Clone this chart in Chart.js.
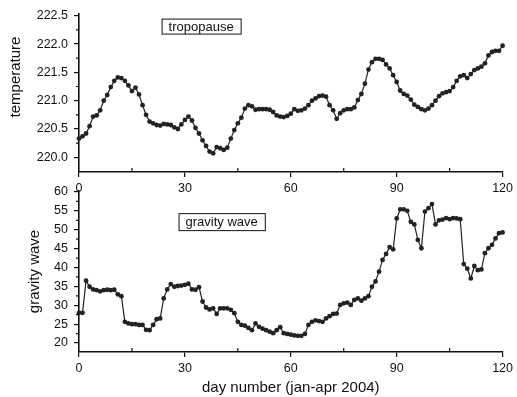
<!DOCTYPE html>
<html><head><meta charset="utf-8">
<script src="https://cdn.jsdelivr.net/npm/chart.js@4"></script>
<style>
html,body{margin:0;padding:0;background:#fff;}
#wrap{position:relative;width:517px;height:397px;overflow:hidden;}
canvas{position:absolute;left:0;top:0;}
</style></head><body>
<div id="wrap"><canvas id="topc" width="517" height="397"></canvas><canvas id="botc" width="517" height="397"></canvas></div>
<script>
// ---- data ----
const days = [0,1,2,3,4,5,6,7,8,9,10,11,12,13,14,15,16,17,18,19,20,21,22,23,24,25,26,27,28,29,30,31,32,33,34,35,36,37,38,39,40,41,42,43,44,45,46,47,48,49,50,51,52,53,54,55,56,57,58,59,60,61,62,63,64,65,66,67,68,69,70,71,72,73,74,75,76,77,78,79,80,81,82,83,84,85,86,87,88,89,90,91,92,93,94,95,96,97,98,99,100,101,102,103,104,105,106,107,108,109,110,111,112,113,114,115,116,117,118,119,120];
const temperature = [220.33,220.37,220.42,220.55,220.72,220.74,220.83,221.00,221.10,221.24,221.35,221.41,221.40,221.35,221.27,221.17,221.23,221.11,220.92,220.75,220.63,220.60,220.57,220.56,220.59,220.58,220.57,220.53,220.50,220.58,220.66,220.72,220.65,220.52,220.42,220.30,220.20,220.10,220.07,220.18,220.16,220.13,220.17,220.33,220.48,220.60,220.70,220.86,220.92,220.90,220.84,220.85,220.85,220.85,220.84,220.80,220.74,220.72,220.71,220.73,220.77,220.85,220.82,220.83,220.86,220.92,221.00,221.04,221.08,221.09,221.07,220.92,220.83,220.68,220.78,220.83,220.85,220.85,220.88,221.01,221.12,221.30,221.55,221.68,221.74,221.74,221.72,221.64,221.57,221.45,221.33,221.18,221.12,221.09,221.02,220.93,220.89,220.85,220.83,220.86,220.92,221.00,221.08,221.13,221.15,221.17,221.24,221.35,221.43,221.45,221.40,221.47,221.54,221.57,221.60,221.66,221.80,221.86,221.88,221.88,221.97];
const gravityWave = [28.0,28.0,36.5,34.9,34.2,34.0,33.7,34.0,34.1,34.0,34.1,32.9,32.4,25.6,25.2,25.0,25.0,24.8,24.8,23.5,23.4,24.8,26.3,26.5,31.8,34.2,35.6,34.9,35.1,35.2,35.4,35.7,34.2,34.1,34.8,31.0,29.4,28.9,29.2,27.7,29.2,29.2,29.2,28.8,27.9,25.6,24.8,24.6,24.0,23.4,25.2,24.3,23.8,23.4,23.0,22.6,23.4,24.2,22.6,22.4,22.2,22.0,21.9,21.9,22.4,24.8,25.6,26.0,25.8,25.6,26.5,27.1,27.7,27.8,30.1,30.5,30.7,30.1,31.4,31.8,31.2,31.8,32.4,34.9,36.3,38.9,42.0,43.6,45.4,44.8,53.0,55.4,55.4,55.0,52.1,51.4,47.3,45.1,54.8,55.7,56.8,51.4,52.5,52.7,53.1,52.8,53.1,53.0,52.8,40.9,39.7,37.1,40.4,39.3,39.5,43.8,45.1,46.0,47.7,49.1,49.3];
const xTicks = [0,30,60,90,120];
const xMinorTicks = [15,45,75,105];
const tempTicks = [220.0,220.5,221.0,221.5,222.0,222.5];
const tempMinorTicks = [220.25,220.75,221.25,221.75,222.25];
const gwTicks = [20,25,30,35,40,45,50,55,60];
const gwMinorTicks = [22.5,27.5,32.5,37.5,42.5,47.5,52.5,57.5];

const FONT = '"Liberation Sans", Arial, Helvetica, sans-serif';
const INK = '#111';

const decor = {
  id: 'decor',
  afterDraw(chart, args, o) {
    const ctx = chart.ctx, xs = chart.scales.x, ys = chart.scales.y, ca = chart.chartArea;
    ctx.save();
    ctx.strokeStyle = INK; ctx.lineWidth = 1.2;
    ctx.beginPath();
    o.xMinor.forEach(v => { const px = xs.getPixelForValue(v); ctx.moveTo(px, ca.bottom); ctx.lineTo(px, ca.bottom - 4); });
    o.yMinor.forEach(v => { const py = ys.getPixelForValue(v); ctx.moveTo(ca.left, py); ctx.lineTo(ca.left - 3, py); });
    ctx.stroke();
    // label box
    ctx.font = '13px ' + FONT;
    const tw = ctx.measureText(o.label).width;
    const bx = xs.getPixelForValue(o.boxDay), by = ys.getPixelForValue(o.boxValue);
    const bw = tw + 14, bh = o.boxH;
    ctx.fillStyle = '#fff';
    ctx.fillRect(bx, by, bw, bh);
    ctx.lineWidth = 1;
    ctx.strokeRect(bx + 0.5, by + 0.5, bw, bh);
    ctx.fillStyle = INK; ctx.textBaseline = 'middle'; ctx.textAlign = 'left';
    ctx.fillText(o.label, bx + 7, by + bh / 2 + 1);
    if (o.yTitle) {
      ctx.save();
      ctx.translate(o.yTitle.x, o.yTitle.y);
      ctx.rotate(-Math.PI / 2);
      ctx.font = '15px ' + FONT; ctx.textAlign = 'center'; ctx.textBaseline = 'middle';
      ctx.fillText(o.yTitle.text, 0, 0);
      ctx.restore();
    }
    ctx.restore();
  }
};

function makeChart(id, values, yMin, yMax, yTicks, opts) {
  return new Chart(document.getElementById(id), {
    type: 'line',
    data: { datasets: [{
      data: days.map((d, i) => ({ x: d, y: values[i] })),
      borderColor: '#222', borderWidth: 1.2,
      pointRadius: 2.4, pointBackgroundColor: '#222', pointBorderColor: '#222', pointBorderWidth: 0,
      tension: 0, clip: false
    }]},
    options: {
      responsive: false, animation: false, devicePixelRatio: 1,
      layout: { padding: opts.padding },
      plugins: { legend: { display: false }, tooltip: { enabled: false }, decor: opts.decor },
      scales: {
        x: {
          type: 'linear', min: 0, max: 120,
          afterFit: s => { s.height = opts.xHeight; },
          afterBuildTicks: s => { s.ticks = xTicks.map(v => ({ value: v })); },
          ticks: { color: INK, font: { size: 12.5, family: FONT }, padding: 4, maxRotation: 0, callback: v => String(v) },
          grid: { drawOnChartArea: false, drawTicks: true, tickLength: 5, color: INK, lineWidth: 1.2 },
          border: { display: true, color: INK, width: 1.6 },
          title: opts.xTitle
        },
        y: {
          min: yMin, max: yMax,
          afterFit: s => { s.width = 79; },
          afterBuildTicks: s => { s.ticks = yTicks.map(v => ({ value: v })); },
          ticks: { color: INK, font: { size: 12.5, family: FONT }, padding: 6, callback: opts.yFmt },
          grid: { drawOnChartArea: false, drawTicks: true, tickLength: 5, color: INK, lineWidth: 1.2 },
          border: { display: true, color: INK, width: 1.6 },
          title: opts.yTitle
        }
      }
    },
    plugins: [decor]
  });
}

makeChart('topc', temperature, 219.74, 222.54, tempTicks, {
  padding: { top: 13, right: 13, left: 0, bottom: 200 },
  xHeight: 25,
  xTitle: { display: false },
  yTitle: { display: false },
  yFmt: v => Number(v).toFixed(1),
  decor: { xMinor: xMinorTicks, yMinor: tempMinorTicks, label: 'tropopause', boxDay: 23.4, boxValue: 222.45, boxH: 15,
           yTitle: { text: 'temperature', x: 16, y: 77 } }
});

makeChart('botc', gravityWave, 17.62, 60.26, gwTicks, {
  padding: { top: 191, right: 13, left: 0, bottom: 0 },
  xHeight: 45,
  xTitle: { display: true, text: 'day number (jan-apr 2004)', color: INK, font: { size: 15, family: FONT }, padding: { top: 0, bottom: 0 } },
  yTitle: { display: true, text: 'gravity wave', color: INK, font: { size: 15, family: FONT }, padding: { top: 26, bottom: 0 } },
  yFmt: v => String(v),
  decor: { xMinor: xMinorTicks, yMinor: gwMinorTicks, label: 'gravity wave', boxDay: 28.2, boxValue: 54.4, boxH: 17 }
});
</script>
</body></html>
